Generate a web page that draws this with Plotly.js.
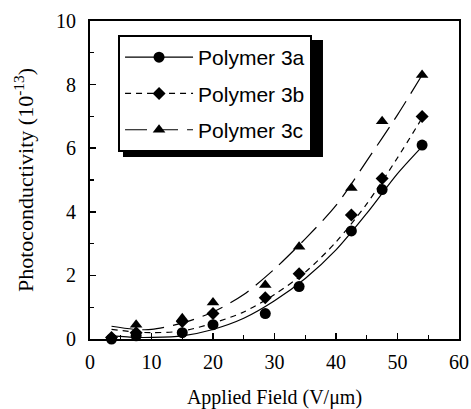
<!DOCTYPE html>
<html>
<head>
<meta charset="utf-8">
<script src="https://cdn.plot.ly/plotly-3.0.1.min.js"></script>
<style>html,body{margin:0;padding:0;background:#fff;}#chart{width:471px;height:409px;}</style>
</head>
<body>
<div id="chart"></div>
<script>
// Measured points
const fieldX = [3.5, 7.5, 15, 20, 28.5, 34, 42.5, 47.5, 54];
const poly3a = [0.0, 0.1, 0.2, 0.45, 0.8, 1.65, 3.4, 4.7, 6.1];
const poly3b = [0.05, 0.2, 0.55, 0.8, 1.3, 2.05, 3.9, 5.05, 7.0];
const poly3c = [0.05, 0.45, 0.65, 1.15, 1.7, 2.9, 4.75, 6.85, 8.3];

// Fit curves
const fitX = [3.5, 7.5, 10, 15, 20, 25, 30, 35, 40, 45, 50, 54];
const fit3a = [0.1, 0.05, 0.05, 0.1, 0.3, 0.65, 1.2, 1.9, 2.8, 3.95, 5.2, 6.05];
const fit3b = [0.3, 0.22, 0.2, 0.25, 0.5, 0.85, 1.4, 2.1, 3.05, 4.25, 5.7, 6.95];
const fit3c = [0.4, 0.3, 0.3, 0.5, 0.85, 1.4, 2.2, 3.15, 4.2, 5.6, 7.05, 8.3];

const names = ['Polymer 3a', 'Polymer 3b', 'Polymer 3c'];
const symbols = ['circle', 'diamond', 'triangle-up'];
const msizes = [11, 10, 11];
const dashes = ['solid', '6px,5px', '22px,9px'];

const pts = [poly3a, poly3b, poly3c];
const fits = [fit3a, fit3b, fit3c];

const traces = [];
for (let i = 0; i < 3; i++) {
  traces.push({
    x: fitX, y: fits[i], type: 'scatter', mode: 'lines',
    line: {color: 'black', width: 1.2, dash: dashes[i], shape: 'spline', smoothing: 0.8},
    showlegend: false, hoverinfo: 'skip'
  });
  traces.push({
    x: fieldX, y: pts[i], type: 'scatter', mode: 'markers',
    marker: {symbol: symbols[i], size: msizes[i], color: 'black'},
    showlegend: false, cliponaxis: false
  });
}
// legend entries (line + marker)
for (let i = 0; i < 3; i++) {
  traces.push({
    x: [null], y: [null], type: 'scatter', mode: 'lines+markers', name: names[i],
    legendgroup: 'g' + i,
    line: {color: 'black', width: 1.2, dash: dashes[i]},
    marker: {symbol: symbols[i], size: msizes[i], color: 'black'}
  });
}

const layout = {
  width: 471, height: 409,
  margin: {l: 90, r: 12, t: 21, b: 70},
  paper_bgcolor: 'white', plot_bgcolor: 'white',
  font: {family: 'Liberation Serif, Times New Roman, serif', color: 'black', size: 20},
  xaxis: {
    range: [0, 60], dtick: 10, tick0: 0,
    ticks: 'inside', ticklen: 6, tickwidth: 1.5, tickcolor: 'black',
    minor: {dtick: 5, ticks: 'inside', ticklen: 4, tickwidth: 1.2, tickcolor: 'black'},
    showline: true, linecolor: 'black', linewidth: 2, mirror: true,
    showgrid: false, zeroline: false,
    ticklabelstandoff: 4,
    tickfont: {size: 20},
    title: {text: 'Applied Field (V/\u03bcm)', font: {size: 20}, standoff: 22}
  },
  yaxis: {
    range: [0, 10], dtick: 2, tick0: 0,
    ticks: 'inside', ticklen: 6, tickwidth: 1.5, tickcolor: 'black',
    minor: {dtick: 1, ticks: 'inside', ticklen: 4, tickwidth: 1.2, tickcolor: 'black'},
    showline: true, linecolor: 'black', linewidth: 2, mirror: true,
    showgrid: false, zeroline: false,
    ticklabelstandoff: 8,
    tickfont: {size: 20},
    title: {text: 'Photoconductivity (10<sup>-13</sup>)', font: {size: 22}, standoff: 16}
  },
  legend: {
    x: 0.076, y: 0.956, xanchor: 'left', yanchor: 'top',
    bgcolor: 'white', bordercolor: 'black', borderwidth: 2,
    font: {family: 'Liberation Sans, Arial, sans-serif', size: 21, color: 'black'},
    itemwidth: 68, tracegroupgap: 6, traceorder: 'grouped'
  },
  // drop shadow of the legend box (sits under the legend layer)
  shapes: [{
    type: 'rect', xref: 'paper', yref: 'paper', layer: 'above',
    x0: 0.0894, x1: 0.6314, y0: 0.572, y1: 0.940,
    fillcolor: 'black', line: {width: 0}
  }]
};

Plotly.newPlot('chart', traces, layout, {displayModeBar: false, staticPlot: true});
</script>
</body>
</html>
